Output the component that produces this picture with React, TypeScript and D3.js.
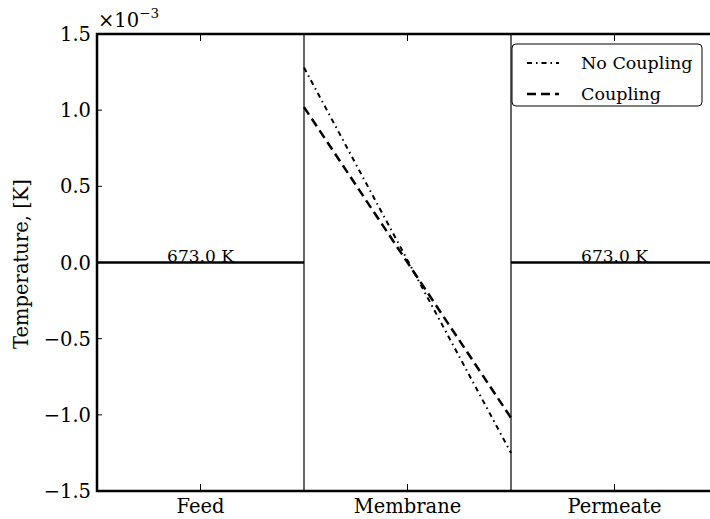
import React from "react";
import * as d3 from "d3";

const sections = ["Feed", "Membrane", "Permeate"];
const yTicks = [-1.5e-3, -1.0e-3, -0.5e-3, 0, 0.5e-3, 1.0e-3, 1.5e-3];
const membraneX = [1, 2];
const noCouplingY = [1.28e-3, -1.25e-3];
const couplingY = [1.02e-3, -1.02e-3];
const feedX = [0, 1];
const feedY = [0, 0];
const permeateX = [2, 3];
const permeateY = [0, 0];
const bulkLabel = "673.0 K";
const legendLabels = ["No Coupling", "Coupling"];

const FONT = "'DejaVu Serif', serif";

export default function App() {
  const left = 97, right = 718, top = 34, bottom = 491;
  const x = d3.scaleLinear().domain([0, 3]).range([left, right]);
  const y = d3.scaleLinear().domain([-1.5e-3, 1.5e-3]).range([bottom, top]);
  const line = d3.line<[number, number]>().x((d) => x(d[0])).y((d) => y(d[1]));
  const zip = (a: number[], b: number[]) => a.map((v, i) => [v, b[i]] as [number, number]);
  const fmt = (v: number) => {
    const s = d3.format(".1f")(v * 1e3);
    return s.replace("-", "\u2212");
  };
  const tx = { fontFamily: FONT } as React.CSSProperties;
  return (
    <svg width={710} height={519} style={{ position: "absolute", left: 0, top: 0, background: "#fff" }}>
      <rect x={0} y={0} width={710} height={519} fill="#fff" />
      {[1, 2].map((v) => (
        <line key={v} x1={x(v)} x2={x(v)} y1={top} y2={bottom} stroke="#000" strokeWidth={1.2} />
      ))}
      <path d={line(zip(feedX, feedY)) || ""} stroke="#000" strokeWidth={2.5} fill="none" />
      <path d={line(zip(permeateX, permeateY)) || ""} stroke="#000" strokeWidth={2.5} fill="none" />
      <text x={x(0.5)} y={y(0) - 1} textAnchor="middle" style={tx} fontSize={17}>{bulkLabel}</text>
      <text x={x(2.5)} y={y(0) - 1} textAnchor="middle" style={tx} fontSize={17}>{bulkLabel}</text>
      <path d={line(zip(membraneX, noCouplingY)) || ""} stroke="#000" strokeWidth={2} fill="none" strokeDasharray="5,4,1.5,4" />
      <path d={line(zip(membraneX, couplingY)) || ""} stroke="#000" strokeWidth={2.5} fill="none" strokeDasharray="9,5" />
      {yTicks.map((t) => (
        <g key={t}>
          <line x1={left} x2={left + 5} y1={y(t)} y2={y(t)} stroke="#000" strokeWidth={1} />
          <line x1={right} x2={right - 8} y1={y(t)} y2={y(t)} stroke="#000" strokeWidth={1} />
          <text x={left - 6} y={y(t) + 7} textAnchor="end" style={tx} fontSize={19.5}>{fmt(t)}</text>
        </g>
      ))}
      {sections.map((s, i) => (
        <g key={s}>
          <line x1={x(i + 0.5)} x2={x(i + 0.5)} y1={bottom} y2={bottom - 7} stroke="#000" strokeWidth={1} />
          <line x1={x(i + 0.5)} x2={x(i + 0.5)} y1={top} y2={top + 7} stroke="#000" strokeWidth={1} />
          <text x={x(i + 0.5)} y={bottom + 22} textAnchor="middle" style={tx} fontSize={19.5}>{s}</text>
        </g>
      ))}
      <rect x={left} y={top} width={right - left} height={bottom - top} fill="none" stroke="#000" strokeWidth={2.5} />
      <text x={98} y={27} style={tx} fontSize={19.5}>
        ×10<tspan dy={-9} fontSize={13.5}>−3</tspan>
      </text>
      <text transform={`translate(28, 264) rotate(-90)`} textAnchor="middle" style={tx} fontSize={19.5}>Temperature, [K]</text>
      <rect x={512} y={44} width={190} height={62} rx={4} fill="#fff" stroke="#000" strokeWidth={1} />
      <line x1={527} x2={559} y1={63} y2={63} stroke="#000" strokeWidth={2} strokeDasharray="5,4,1.5,4" />
      <line x1={527} x2={559} y1={94} y2={94} stroke="#000" strokeWidth={2.5} strokeDasharray="9,5" />
      <text x={581} y={69} style={tx} fontSize={17.5}>{legendLabels[0]}</text>
      <text x={581} y={100} style={tx} fontSize={17.5}>{legendLabels[1]}</text>
    </svg>
  );
}
